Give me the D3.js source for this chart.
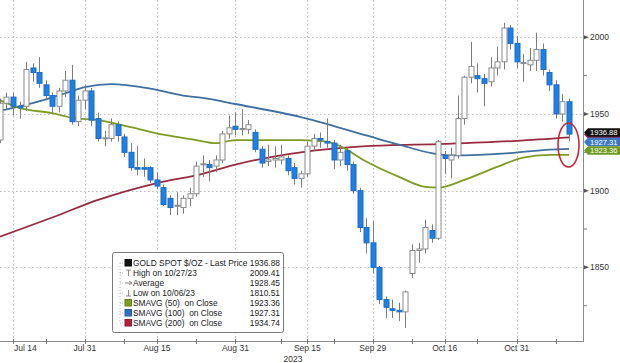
<!DOCTYPE html>
<html>
<head>
<meta charset="utf-8">
<script src="https://cdn.jsdelivr.net/npm/d3@7"></script>
<style>
  html, body { margin: 0; padding: 0; background: #fff; }
  svg { display: block; font-family: "Liberation Sans", Arial, sans-serif; }
</style>
</head>
<body>
<svg id="chart" width="620" height="363"></svg>
<script>
// daily OHLC, gold spot, Jul 12 - Nov 10 2023 (weekdays)
const openPx = [1933,1957,1961,1955,1955,1980,1977,1969,1962,1955,1965,1972,1945,1959,1965,1947,1934,1934,1943,1935,
  1925,1915,1915,1915,1907,1902,1895,1890,1889,1895,1898,1917,1917,1916,1920,1937,1942,1940,1940,1938,
  1927,1919,1920,1920,1921,1915,1908,1911,1929,1934,1932,1931,1920,1926,1917,1900,1876,1866,1850,1829,
  1823,1822,1821,1846,1861,1862,1874,1869,1923,1920,1923,1947,1974,1975,1973,1971,1980,1984,2006,1996,
  1983,1982,1985,1992,1977,1969,1950,1958];
const highPx = [1960,1964,1964,1958,1984,1983,1987,1972,1964,1967,1978,1982,1962,1969,1967,1951,1939,1947,1945,1937,
  1931,1929,1921,1916,1912,1904,1897,1899,1897,1902,1919,1923,1920,1923,1939,1949,1951,1953,1946,1940,
  1929,1930,1929,1930,1923,1918,1913,1932,1937,1938,1947,1933,1930,1928,1919,1902,1882,1880,1851,1831,
  1829,1827,1835,1865,1866,1881,1878,1933,1926,1928,1962,1975,1997,1983,1976,1987,1994,2009.41,2008,2001,
  1989,1993,2003,1996,1979,1972,1963,1960];
const lowPx = [1931,1953,1949,1947,1952,1971,1967,1959,1951,1951,1961,1943,1942,1953,1942,1932,1929,1932,1932,1922,
  1913,1910,1909,1905,1901,1890,1884,1884,1885,1890,1896,1909,1906,1912,1918,1934,1936,1936,1937,1925,
  1915,1916,1915,1917,1910,1904,1902,1909,1926,1928,1928,1914,1916,1913,1898,1873,1859,1846,1826,1817,
  1817,1815,1810.51,1843,1853,1859,1866,1868,1911,1908,1921,1943,1970,1964,1955,1968,1975,1979,1992,1980,
  1971,1978,1978,1975,1965,1947,1945,1932];
const closePx = [1957,1961,1955,1954,1979,1977,1970,1962,1955,1965,1972,1945,1959,1965,1946,1934,1934.5,1943,1936,1925,
  1915,1914,1914,1907,1903,1891,1889,1890.5,1895,1898,1916,1917.5,1915,1920,1937,1941,1940,1940.5,1943,1927,
  1918,1920,1921,1922,1913,1908,1911,1929,1934,1933,1931,1920,1925,1917,1900,1876,1866,1850,1829,1824,
  1822,1821,1834,1861,1862,1876,1869,1932,1921,1923,1947,1974,1981,1973,1970,1980,1984,2006,1996,1984,
  1983.5,1985,1992,1979,1969,1950,1958,1936.88];

// moving averages at a few dates
const sma50Dates = ['2023-07-12','2023-07-17','2023-07-24','2023-07-27','2023-08-02','2023-08-09','2023-08-16','2023-08-23',
  '2023-08-28','2023-08-31','2023-09-07','2023-09-14','2023-09-20','2023-09-22','2023-09-28','2023-10-05','2023-10-11',
  '2023-10-13','2023-10-19','2023-10-26','2023-11-01','2023-11-07','2023-11-10'];
const sma50Vals = [1959,1954,1950.5,1947.5,1946,1941.5,1936.5,1933,1931,1933,1933,1933,1932,1929,1919,1909,1902.5,
  1902,1907,1915.5,1921.5,1923.3,1923.36];
const sma100Dates = ['2023-07-12','2023-07-19','2023-07-26','2023-07-31','2023-08-04','2023-08-14','2023-08-21','2023-08-24',
  '2023-08-31','2023-09-14','2023-09-28','2023-10-05','2023-10-12','2023-10-17','2023-10-30','2023-11-07','2023-11-10'];
const sma100Vals = [1952,1957,1963.5,1967.5,1969.5,1966.5,1962,1960.5,1956.5,1948,1936,1930,1924.5,1923,1924.5,1926.8,1927.31];
const sma200Dates = ['2023-07-12','2023-07-24','2023-08-02','2023-08-15','2023-08-24','2023-08-31','2023-09-14','2023-09-28',
  '2023-10-16','2023-10-31','2023-11-10'];
const sma200Vals = [1870,1882.5,1894,1905,1911,1917,1925,1929,1930.5,1932.5,1934.74];

const yTicks = [1850, 1900, 1950, 2000];
const yMinorTicks = [1825, 1875, 1925, 1975];
const xTickDates = ['2023-07-14','2023-07-31','2023-08-15','2023-08-31','2023-09-15','2023-09-29','2023-10-16','2023-10-31'];
const xTickLabels = ['Jul 14','Jul 31','Aug 15','Aug 31','Sep 15','Sep 29','Oct 16','Oct 31'];
const xMinorDates = ['2023-07-21','2023-08-08','2023-08-23','2023-09-11','2023-09-21','2023-10-09','2023-10-23','2023-11-08'];

const legendLabels = ['GOLD SPOT $/OZ - Last Price','High on 10/27/23','Average','Low on 10/06/23',
  'SMAVG (50)  on Close','SMAVG (100)  on Close','SMAVG (200)  on Close'];
const legendValues = ['1936.88','2009.41','1928.45','1810.51','1923.36','1927.31','1934.74'];
const legendIcons = ['sq','high','avg','low','sq','sq','sq'];

// red tag sits under the black one, only its lower edge shows
const tagValues = [1934.74, 1927.31, 1923.36, 1936.88];
const tagLabels = ['', '1927.31', '1923.36', '1936.88'];

const C = {
    up: '#ffffff', upStroke: '#8a8a8a', down: '#1f7fe3', downStroke: '#1a6cc8', wick: '#7d7d7d',
    sma50: '#7f9b24', sma100: '#3f6f9f', sma200: '#9a2a3e', grid: '#bdbdbd', axis: '#8c8c8c', text: '#333'
};
const legendColors = ['#111', '#888', '#888', '#888', C.sma50, '#2f6fc0', '#b3203a'];
const tagColors = ['#8a2a5e', '#3c78c2', '#6e9a20', '#111'];
const tagNudge = [-2.8, -6.7, -4.3, -1.6];

const fmt = d3.timeFormat('%Y-%m-%d');
const days = d3.timeDay.range(new Date(2023, 6, 12), new Date(2023, 10, 11)).filter((d) => d.getDay() % 6 !== 0);
const dayKeys = days.map(fmt);
const idx = (k) => dayKeys.indexOf(k);

const plotRight = 583, plotBottom = 341;

const x = d3.scaleLinear().domain([idx('2023-07-14'), idx('2023-11-10')]).range([13, 569]);
const y = d3.scaleLinear().domain([1802, 2024.3]).range([plotBottom, 0]);

const svg = d3.select('#chart');

// grid
const grid = svg.append('g');
grid.selectAll('.hg').data(yTicks).join('line')
    .attr('x1', 0).attr('x2', plotRight)
    .attr('y1', (d) => Math.round(y(d)) + 0.5).attr('y2', (d) => Math.round(y(d)) + 0.5)
    .attr('stroke', C.grid).attr('stroke-width', 1.2).attr('stroke-dasharray', '1.5,2.5');
grid.selectAll('.vg').data(xTickDates).join('line')
    .attr('x1', (d) => Math.round(x(idx(d))) + 0.5).attr('x2', (d) => Math.round(x(idx(d))) + 0.5)
    .attr('y1', 0).attr('y2', plotBottom)
    .attr('stroke', C.grid).attr('stroke-width', 1.2).attr('stroke-dasharray', '1.5,2.5');

// moving averages
const maLine = d3.line()
    .x((d) => x(idx(d[0])))
    .y((d) => y(d[1]))
    .curve(d3.curveMonotoneX);
[[sma200Dates, sma200Vals, C.sma200], [sma100Dates, sma100Vals, C.sma100], [sma50Dates, sma50Vals, C.sma50]]
    .forEach(([dates, vals, col]) => {
        svg.append('path')
            .attr('d', maLine(d3.zip(dates, vals)))
            .attr('fill', 'none')
            .attr('stroke', col)
            .attr('stroke-width', 1.8);
    });

// candles
const candles = dayKeys.map((k, i) => ({ i, o: openPx[i], h: highPx[i], l: lowPx[i], c: closePx[i] }));
const cg = svg.append('g');
cg.selectAll('.wick').data(candles).join('line')
    .attr('x1', (d) => Math.round(x(d.i)) + 0.5).attr('x2', (d) => Math.round(x(d.i)) + 0.5)
    .attr('y1', (d) => y(d.h)).attr('y2', (d) => y(d.l))
    .attr('stroke', C.wick).attr('stroke-width', 1);
cg.selectAll('.body').data(candles).join('rect')
    .attr('x', (d) => Math.round(x(d.i)) - 2)
    .attr('y', (d) => y(Math.max(d.o, d.c)))
    .attr('width', 5)
    .attr('height', (d) => Math.max(1, Math.abs(y(d.o) - y(d.c))))
    .attr('fill', (d) => d.c >= d.o ? C.up : C.down)
    .attr('stroke', (d) => d.c >= d.o ? C.upStroke : C.downStroke)
    .attr('stroke-width', 1);

// axes
svg.append('line').attr('x1', 0).attr('x2', plotRight).attr('y1', plotBottom + 0.5).attr('y2', plotBottom + 0.5)
    .attr('stroke', C.axis);
svg.append('line').attr('x1', plotRight + 0.5).attr('x2', plotRight + 0.5).attr('y1', 0).attr('y2', plotBottom + 1)
    .attr('stroke', C.axis);

svg.selectAll('.ytk').data(yTicks).join('path')
    .attr('d', (d) => `M${plotRight + 1},${y(d) - 2}L${plotRight + 6},${y(d)}L${plotRight + 1},${y(d) + 2}Z`)
    .attr('fill', '#555');
svg.selectAll('.ymt').data(yMinorTicks).join('line')
    .attr('x1', plotRight + 1).attr('x2', plotRight + 4)
    .attr('y1', (d) => y(d)).attr('y2', (d) => y(d))
    .attr('stroke', '#777');
svg.selectAll('.ylab').data(yTicks).join('text')
    .attr('x', 590).attr('y', (d) => y(d) + 3)
    .attr('fill', C.text).style('font-size', '8.5px')
    .text((d) => d);

svg.selectAll('.xtk').data(xTickDates.concat(xMinorDates)).join('line')
    .attr('x1', (d) => Math.round(x(idx(d))) + 0.5).attr('x2', (d) => Math.round(x(idx(d))) + 0.5)
    .attr('y1', plotBottom - 2).attr('y2', plotBottom + 3)
    .attr('stroke', '#777');
svg.selectAll('.xlab').data(xTickDates).join('text')
    .attr('x', (d, i) => i === 0 ? x(idx(d)) + 1 : x(idx(d)))
    .attr('y', 351)
    .attr('text-anchor', (d, i) => i === 0 ? 'start' : 'middle')
    .attr('fill', C.text).style('font-size', '8.5px')
    .text((d, i) => xTickLabels[i]);
svg.append('text').attr('x', 293).attr('y', 361.5).attr('text-anchor', 'middle')
    .attr('fill', C.text).style('font-size', '8.5px').text('2023');

// right-hand value tags
const tags = svg.append('g');
tagValues.forEach((v, i) => {
    const cy = y(v) + tagNudge[i];
    tags.append('path')
        .attr('d', `M${plotRight + 1},${cy}L${plotRight + 5},${cy - 4.25}H620V${cy + 4.25}H${plotRight + 5}Z`)
        .attr('fill', tagColors[i]);
    if (tagLabels[i]) {
        tags.append('text')
            .attr('x', 590).attr('y', cy + 2.8)
            .attr('fill', '#fff').style('font-size', '7.6px')
            .text(tagLabels[i]);
    }
});

// circled end of the averages
svg.append('ellipse')
    .attr('cx', 568.5).attr('cy', 145).attr('rx', 10.5).attr('ry', 22)
    .attr('fill', 'none').attr('stroke', '#c8283c').attr('stroke-width', 1.6);

// legend
const lg = svg.append('g').attr('transform', 'translate(112,252)');
lg.append('rect').attr('x', 0.5).attr('y', 0.5).attr('width', 171).attr('height', 80).attr('rx', 2)
    .attr('fill', '#fff').attr('stroke', '#7a7a7a');
lg.append('line').attr('x1', 8).attr('x2', 8).attr('y1', 11).attr('y2', 71)
    .attr('stroke', '#b5b5b5').attr('stroke-dasharray', '1,2');
const rows = lg.selectAll('.row').data(legendLabels).join('g')
    .attr('transform', (d, i) => `translate(0,${11 + i * 10})`);
rows.append('line').attr('x1', 8).attr('x2', 12).attr('y1', 0).attr('y2', 0)
    .attr('stroke', '#b5b5b5').attr('stroke-dasharray', '1,1');
rows.each(function (d, i) {
    const g = d3.select(this);
    const kind = legendIcons[i];
    if (kind === 'sq') {
        g.append('rect').attr('x', 13).attr('y', -3.5).attr('width', 6.5).attr('height', 6.5)
            .attr('fill', legendColors[i]).attr('stroke', d3.color(legendColors[i]).darker(0.6));
    } else if (kind === 'high') {
        g.append('path').attr('d', 'M14,-3H19M16.5,-3V3').attr('stroke', '#888').attr('fill', 'none');
    } else if (kind === 'avg') {
        g.append('path').attr('d', 'M13,0H20M17,-2L20,0L17,2').attr('stroke', '#888').attr('fill', 'none');
    } else {
        g.append('path').attr('d', 'M16.5,-3V3M14,3H19').attr('stroke', '#888').attr('fill', 'none');
    }
});
rows.append('text').attr('x', 21).attr('y', 3)
    .attr('fill', '#222').style('font-size', '8.4px').style('white-space', 'pre')
    .text((d) => d);
rows.append('text').attr('x', 168).attr('y', 3).attr('text-anchor', 'end')
    .attr('fill', '#222').style('font-size', '8.4px')
    .text((d, i) => legendValues[i]);
</script>
</body>
</html>
